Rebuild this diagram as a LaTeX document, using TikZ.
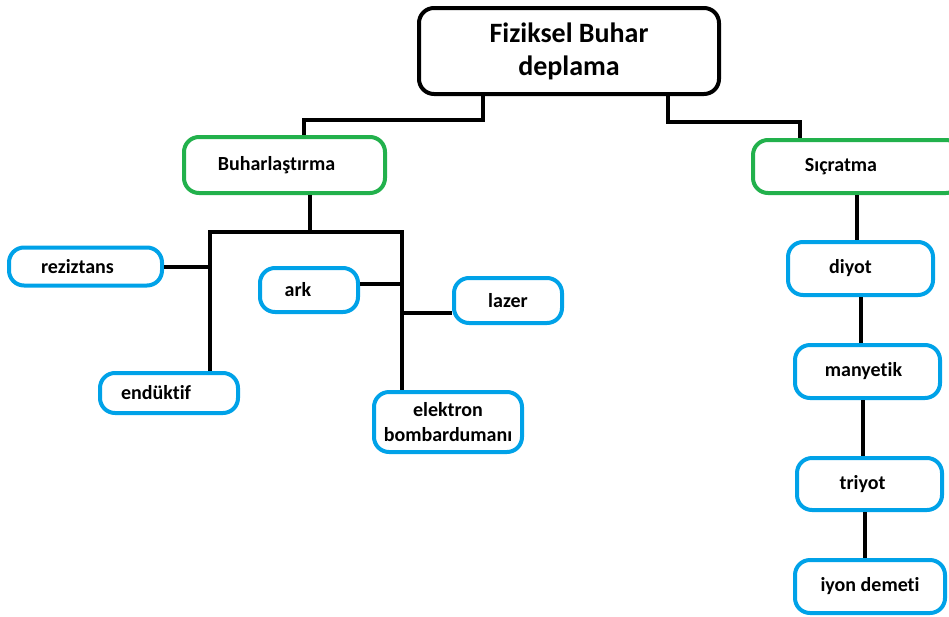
\documentclass[tikz,border=0pt]{standalone}
\usepackage{fontspec}
\setmainfont[Ligatures=NoCommon]{Carlito}
\usepackage{tikz}
\definecolor{boxgreen}{RGB}{34,177,76}
\definecolor{boxblue}{RGB}{0,162,232}

\begin{document}
\begin{tikzpicture}[x=1pt,y=-1pt,line width=4pt,
 box/.style={draw,rounded corners=15pt,inner sep=0pt,align=center,font=\bfseries\fontsize{20}{25}\selectfont},
 topbox/.style={box,draw=black,font=\bfseries\fontsize{28}{33}\selectfont},
 mainbox/.style={box,draw=boxgreen},
 subbox/.style={box,draw=boxblue,minimum height=53pt}]
 \clip (0,0) rectangle (949,616);
 \node[topbox,minimum width=300pt,minimum height=86pt] (pvd) at (569,51) {Fiziksel Buhar\\deplama\hspace*{0pt}};

 \node[mainbox,minimum width=201pt,minimum height=56pt] (buh) at (284.5,165) {Buharlaştırma\hspace{16pt}};
 \node[mainbox,minimum width=208pt,minimum height=53pt] (sic) at (857,166.5) {\makebox[176pt]{Sıçratma}\hspace{32pt}};

 \node[subbox,minimum width=153pt,minimum height=38pt] (rez) at (85.5,266.5) {reziztans\hspace{16pt}};
 \node[subbox,minimum width=138pt,minimum height=40pt] (end) at (169,393) {endüktif\hspace{26pt}};
 \node[subbox,minimum width=98pt,minimum height=44pt] (ark) at (309,290) {ark\hspace{22pt}};
 \node[subbox,minimum width=108pt,minimum height=45pt] (lazer) at (508,300.5) {lazer};
 \node[subbox,minimum width=148pt,minimum height=60pt] (elek) at (448,422) {elektron\\bombardumanı};

 \node[subbox,minimum width=145pt] (diyot) at (860.5,268.5) {diyot\hspace{20pt}};
 \node[subbox,minimum width=145pt] (many) at (867.5,371.5) {manyetik\hspace{8pt}};
 \node[subbox,minimum width=145pt,minimum height=52pt] (triyot) at (869.5,484) {triyot\hspace{14pt}};
 \node[subbox,minimum width=150pt] (iyon) at (870,586.5) {iyon demeti};

 \coordinate (bsplit) at (310,232);
 \coordinate (lsplit) at (210,232);
 \coordinate (rsplit) at (402,232);

 \draw ([xshift=-86pt]pvd.south) -- ++(0,24) -| ([xshift=19.5pt]buh.north);
 \draw ([xshift=99pt]pvd.south) -- ++(0,26) -| ([xshift=-57pt]sic.north);

 \draw (buh.south -| bsplit) -- (bsplit);
 \draw (end.north -| lsplit) -- (lsplit) -- (rsplit) -- (elek.north -| rsplit);
 \draw (rez.east) -- (rez.east -| lsplit);
 \draw ([yshift=6pt]ark.east) -- ([yshift=6pt]ark.east -| rsplit);
 \draw ([yshift=-12pt]lazer.west) -- ([yshift=-12pt]lazer.west -| rsplit);

 \draw (sic.south) -- (sic.south |- diyot.north);
 \draw (diyot.south) -- (diyot.south |- many.north);
 \draw ([xshift=-5pt]many.south) -- ([xshift=-5pt]many.south |- triyot.north);
 \draw ([xshift=-5pt]triyot.south) -- ([xshift=-5pt]triyot.south |- iyon.north);
\end{tikzpicture}
\end{document}
